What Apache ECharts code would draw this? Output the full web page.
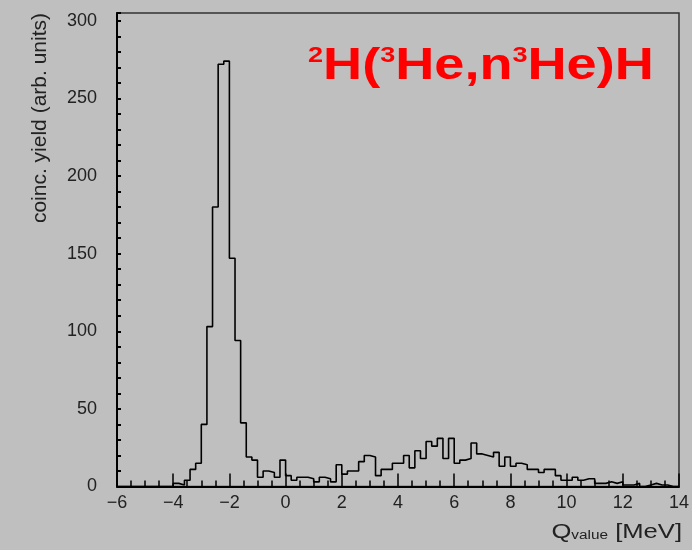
<!DOCTYPE html>
<html>
<head>
<meta charset="utf-8">
<script src="https://cdn.jsdelivr.net/npm/echarts@6/dist/echarts.min.js"></script>
<style>
  html, body { margin: 0; padding: 0; background: #bfbfbf; }
  #chart { width: 692px; height: 550px; }
</style>
</head>
<body>
<div id="chart"></div>
<script>
// histogram bins: left edge of first bin and bin width, in MeV
var binStart = -6;
var binWidth = 0.2;
// coincidence yield per bin, -6.0 ... 14.0 MeV
var counts = [
    0, 0, 0, 0, 0, 0, 0, 0, 0, 0,
    2, 1, 4, 11, 15, 40, 103, 180, 272, 274,
    147, 94, 41, 19, 17, 6, 10, 9, 6, 17,
    7, 4, 6, 6, 5, 3, 6, 5, 3, 14,
    8, 10, 10, 16, 20, 19, 7, 11, 11, 15,
    15, 20, 12, 23, 18, 29, 26, 31, 18, 31,
    15, 17, 18, 28, 21, 20, 19, 22, 13, 19,
    13, 15, 14, 11, 11, 9, 11, 11, 7, 4,
    4, 6, 4, 5, 5, 2, 2, 3, 2, 3,
    1, 1, 2, 0, 1, 2, 1, 1, 0, 0
];
var xTicks = [-6, -4, -2, 0, 2, 4, 6, 8, 10, 12, 14];
var yTicks = [0, 50, 100, 150, 200, 250, 300];

function DrawHist(){
    var myChart = echarts.init(document.getElementById('chart'));
    var FONT = 'Liberation Sans';

    // step line through bin edges
    var steps = counts.map(function (c, i) {
        return [Number((binStart + i * binWidth).toFixed(2)), c];
    });
    steps.push([Number((binStart + counts.length * binWidth).toFixed(2)), counts[counts.length - 1]]);

    var option = {
        backgroundColor: '#bfbfbf',
        animation: false,
        grid: {
            left: 117,
            right: 9,
            top: 13,
            bottom: 63.5,
            show: true,
            borderColor: '#333',
            borderWidth: 1.5
        },
        xAxis: {
            type: 'value',
            min: xTicks[0],
            max: xTicks[xTicks.length - 1],
            interval: 2,
            axisLine: { show: true, onZero: false, lineStyle: { color: '#000', width: 2 } },
            axisTick: { show: true, inside: true, length: 13, lineStyle: { color: '#000', width: 1.5 } },
            minorTick: { show: true, splitNumber: 4, length: 6, lineStyle: { color: '#000', width: 1.5 } },
            splitLine: { show: false },
            axisLabel: {
                margin: 8,
                color: '#222',
                fontSize: 18,
                fontFamily: FONT,
                formatter: function (v) {
                    return v < 0 ? '\u2212' + Math.abs(v) : String(v);
                }
            }
        },
        yAxis: {
            type: 'value',
            min: 0,
            max: 305,
            interval: 10,
            axisLine: { show: true, onZero: false, lineStyle: { color: '#000', width: 2 } },
            axisTick: { show: true, inside: true, length: 4, lineStyle: { color: '#000', width: 2 } },
            splitLine: { show: false },
            axisLabel: {
                margin: 20,
                color: '#222',
                fontSize: 18,
                fontFamily: FONT,
                formatter: function (v) {
                    return yTicks.indexOf(v) >= 0 ? String(v) : '';
                }
            }
        },
        series: [{
            type: 'line',
            step: 'end',
            data: steps,
            showSymbol: false,
            symbol: 'none',
            lineStyle: { color: '#000', width: 1.6 }
        }],
        graphic: [
            {
                // reaction label
                type: 'text',
                x: 308,
                y: 67,
                scaleX: 1.23,
                style: {
                    text: '{s|2}H({s|3}He,n{s|3}He)H',
                    fill: '#ff0000',
                    fontSize: 44,
                    fontWeight: 'bold',
                    fontFamily: FONT,
                    align: 'left',
                    verticalAlign: 'middle',
                    rich: {
                        s: { fontSize: 22, fontWeight: 'bold', fontFamily: FONT, fill: '#ff0000', verticalAlign: 'top' }
                    }
                }
            },
            {
                // y axis title
                type: 'text',
                x: 40,
                y: 13,
                rotation: Math.PI / 2,
                style: {
                    text: 'coinc. yield (arb. units)',
                    fill: '#222',
                    fontSize: 21,
                    fontFamily: FONT,
                    align: 'right',
                    verticalAlign: 'middle'
                }
            },
            {
                // x axis title
                type: 'text',
                x: 682,
                y: 532,
                scaleX: 1.28,
                style: {
                    text: '{q|Q}{s|value}{q| [MeV]}',
                    fill: '#222',
                    align: 'right',
                    verticalAlign: 'middle',
                    rich: {
                        q: { fontSize: 20, fontFamily: FONT, fill: '#222' },
                        s: { fontSize: 12, fontFamily: FONT, fill: '#222', verticalAlign: 'bottom' }
                    }
                }
            }
        ]
    };

    myChart.setOption(option);
}
DrawHist();
</script>
</body>
</html>
